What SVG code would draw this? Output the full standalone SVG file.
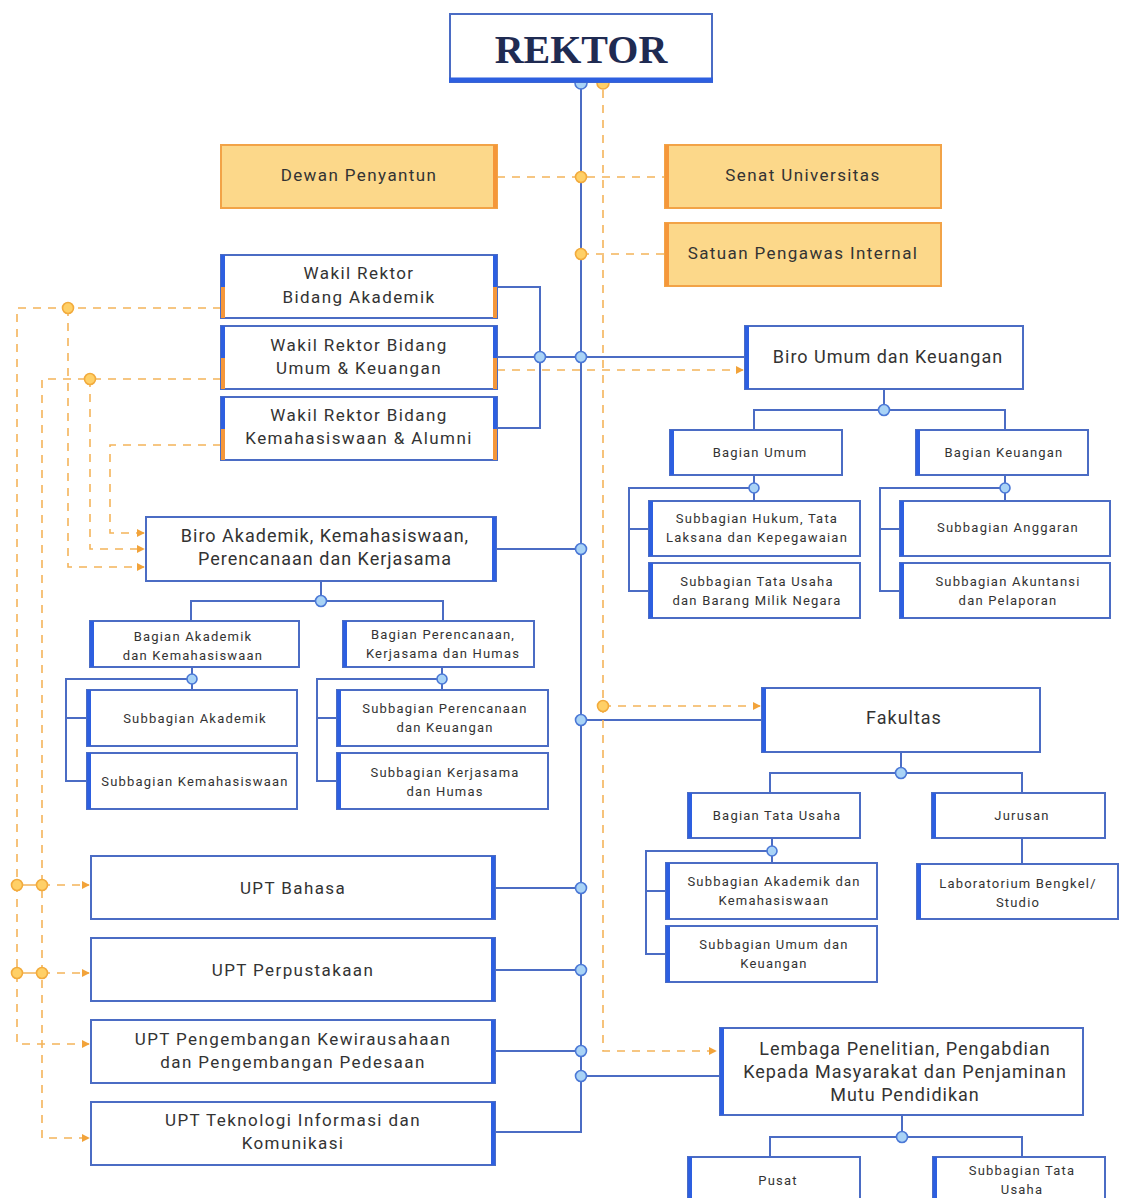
<svg xmlns="http://www.w3.org/2000/svg" width="1121" height="1198" viewBox="0 0 1121 1198">
<defs>
<marker id="arr" viewBox="0 0 10 10" refX="9" refY="5" markerWidth="8" markerHeight="8" markerUnits="userSpaceOnUse" orient="auto"><path d="M0,0 L10,5 L0,10 z" fill="#f2a33a"/></marker>
<style>
.box{fill:#fff;stroke:#4b6cc4;stroke-width:2}
.ybox{fill:#fcd88a;stroke:#f2a347;stroke-width:2}
.be{stroke:#2d5fe0;stroke-width:4}
.oe{stroke:#f5973a;stroke-width:4}
.conn{stroke:#4b6cc4;stroke-width:2;fill:none}
.dash{stroke:#f4b45a;stroke-width:1.6;stroke-dasharray:8 7;fill:none}
.bdot{fill:#a9d3f6;stroke:#4b78d6;stroke-width:1.6}
.odot{fill:#ffd067;stroke:#f2ab3d;stroke-width:1.6}
text{font-family:Roboto,"Liberation Sans",sans-serif;fill:#333;text-anchor:middle}
.t17{font-size:17px;letter-spacing:1.4px}
.t18{font-size:18px;letter-spacing:1px}
.t13{font-size:13px;letter-spacing:1.2px}
</style>
</defs>
<rect width="1121" height="1198" fill="#fff"/>

<g id="connectors">
<path class="conn" d="M581,83 V1132 H495"/>
<path class="conn" d="M497,287 H540 V428 H497"/>
<path class="conn" d="M497,357 H745"/>
<path class="conn" d="M496,549 H581"/>
<path class="conn" d="M581,720 H762"/>
<path class="conn" d="M495,888 H581"/>
<path class="conn" d="M495,970 H581"/>
<path class="conn" d="M495,1051 H581"/>
<path class="conn" d="M581,1076 H720"/>
<path class="conn" d="M884,389 V410 M754,430 V410 H1005 V430"/>
<path class="conn" d="M754,475 V501 M754,488 H629 V591 H649 M629,529 H649"/>
<path class="conn" d="M1005,475 V501 M1005,488 H880 V591 H900 M880,529 H900"/>
<path class="conn" d="M321,581 V601 M191,621 V601 H443 V621"/>
<path class="conn" d="M192,667 V690 M192,679 H66 V781 H87 M66,718 H87"/>
<path class="conn" d="M442,667 V690 M442,679 H317 V781 H337 M317,718 H337"/>
<path class="conn" d="M901,752 V773 M770,793 V773 H1022 V793"/>
<path class="conn" d="M1022,838 V864"/>
<path class="conn" d="M772,838 V863 M772,851 H646 V954 H666 M646,891 H666"/>
<path class="conn" d="M902,1115 V1137 M770,1157 V1137 H1022 V1157"/>
<path class="dash" d="M603,90 V1051 H716" marker-end="url(#arr)"/>
<path class="dash" d="M603,706 H760" marker-end="url(#arr)"/>
<path class="dash" d="M497,177 H665"/>
<path class="dash" d="M581,254 H665"/>
<path class="dash" d="M497,370 H743" marker-end="url(#arr)"/>
<path class="dash" d="M221,308 H17 V1044 H89" marker-end="url(#arr)"/>
<path class="dash" d="M68,308 V567 H144" marker-end="url(#arr)"/>
<path class="dash" d="M221,379 H42 V1138 H89" marker-end="url(#arr)"/>
<path class="dash" d="M90,379 V549 H144" marker-end="url(#arr)"/>
<path class="dash" d="M221,445 H110 V533 H144" marker-end="url(#arr)"/>
<path d="M17,885 H42 M17,973 H42" stroke="#f4b45a" stroke-width="1.6"/>
<path class="dash" d="M42,885 H89" marker-end="url(#arr)"/>
<path class="dash" d="M42,973 H89" marker-end="url(#arr)"/>
<circle class="bdot" cx="581" cy="83" r="6"/>
<circle class="odot" cx="603" cy="83" r="6"/>
<circle class="odot" cx="581" cy="177" r="5.5"/>
<circle class="odot" cx="581" cy="254" r="5.5"/>
<circle class="bdot" cx="540" cy="357" r="5.5"/>
<circle class="bdot" cx="581" cy="357" r="5.5"/>
<circle class="bdot" cx="581" cy="549" r="5.5"/>
<circle class="bdot" cx="581" cy="720" r="5.5"/>
<circle class="bdot" cx="581" cy="888" r="5.5"/>
<circle class="bdot" cx="581" cy="970" r="5.5"/>
<circle class="bdot" cx="581" cy="1051" r="5.5"/>
<circle class="bdot" cx="581" cy="1076" r="5.5"/>
<circle class="odot" cx="603" cy="706" r="5.5"/>
<circle class="bdot" cx="884" cy="410" r="5.5"/>
<circle class="bdot" cx="754" cy="488" r="5"/>
<circle class="bdot" cx="1005" cy="488" r="5"/>
<circle class="bdot" cx="321" cy="601" r="5.5"/>
<circle class="bdot" cx="192" cy="679" r="5"/>
<circle class="bdot" cx="442" cy="679" r="5"/>
<circle class="bdot" cx="901" cy="773" r="5.5"/>
<circle class="bdot" cx="772" cy="851" r="5"/>
<circle class="bdot" cx="902" cy="1137" r="5.5"/>
<circle class="odot" cx="68" cy="308" r="5.5"/>
<circle class="odot" cx="90" cy="379" r="5.5"/>
<circle class="odot" cx="17" cy="885" r="5.5"/>
<circle class="odot" cx="42" cy="885" r="5.5"/>
<circle class="odot" cx="17" cy="973" r="5.5"/>
<circle class="odot" cx="42" cy="973" r="5.5"/>
</g>

<g id="rektor">
<rect x="450" y="14" width="262" height="68" fill="#fff" stroke="#4b6cc4" stroke-width="2"/>
<line x1="449" y1="80" x2="713" y2="80" stroke="#2d5fe0" stroke-width="5"/>
<text x="581" y="63" style="font-family:'Liberation Serif',serif;font-weight:bold;font-size:40px;fill:#1f2b52">REKTOR</text>
</g>

<g id="dewan-penyantun">
<rect class="ybox" x="221" y="145" width="276" height="63"/>
<line class="oe" x1="495" y1="145" x2="495" y2="208"/>
<text class="t17" x="359" y="181">Dewan Penyantun</text>
</g>
<g id="senat-universitas">
<rect class="ybox" x="665" y="145" width="276" height="63"/>
<line class="oe" x1="667" y1="145" x2="667" y2="208"/>
<text class="t17" x="803" y="181">Senat Universitas</text>
</g>
<g id="satuan-pengawas-internal">
<rect class="ybox" x="665" y="223" width="276" height="63"/>
<line class="oe" x1="667" y1="223" x2="667" y2="286"/>
<text class="t17" x="803" y="259">Satuan Pengawas Internal</text>
</g>

<g id="wr-akademik">
<rect class="box" x="221" y="255" width="276" height="63"/>
<path class="be" d="M223,255 V287 M495,255 V287"/><path class="oe" d="M223,287 V318 M495,287 V318"/>
<text class="t17"><tspan x="359" y="279">Wakil Rektor</tspan><tspan x="359" y="303">Bidang Akademik</tspan></text>
</g>
<g id="wr-umum">
<rect class="box" x="221" y="326" width="276" height="63"/>
<path class="be" d="M223,326 V358 M495,326 V358"/><path class="oe" d="M223,358 V389 M495,358 V389"/>
<text class="t17"><tspan x="359" y="351">Wakil Rektor Bidang</tspan><tspan x="359" y="374">Umum &amp; Keuangan</tspan></text>
</g>
<g id="wr-kemahasiswaan">
<rect class="box" x="221" y="397" width="276" height="63"/>
<path class="be" d="M223,397 V429 M495,397 V429"/><path class="oe" d="M223,429 V460 M495,429 V460"/>
<text class="t17"><tspan x="359" y="421">Wakil Rektor Bidang</tspan><tspan x="359" y="444">Kemahasiswaan &amp; Alumni</tspan></text>
</g>

<g id="biro-umum">
<rect class="box" x="745" y="326" width="278" height="63"/>
<line class="be" x1="747" y1="326" x2="747" y2="389"/>
<text class="t18" x="888" y="363">Biro Umum dan Keuangan</text>
</g>
<g id="bagian-umum">
<rect class="box" x="670" y="430" width="172" height="45"/>
<line class="be" x1="672" y1="430" x2="672" y2="475"/>
<text class="t13" x="760" y="457">Bagian Umum</text>
</g>
<g id="bagian-keuangan">
<rect class="box" x="916" y="430" width="172" height="45"/>
<line class="be" x1="918" y1="430" x2="918" y2="475"/>
<text class="t13" x="1004" y="457">Bagian Keuangan</text>
</g>
<g id="sub-hukum">
<rect class="box" x="649" y="501" width="211" height="55"/>
<line class="be" x1="651" y1="501" x2="651" y2="556"/>
<text class="t13"><tspan x="757" y="523">Subbagian Hukum, Tata</tspan><tspan x="757" y="542">Laksana dan Kepegawaian</tspan></text>
</g>
<g id="sub-tatausaha-bmn">
<rect class="box" x="649" y="563" width="211" height="55"/>
<line class="be" x1="651" y1="563" x2="651" y2="618"/>
<text class="t13"><tspan x="757" y="586">Subbagian Tata Usaha</tspan><tspan x="757" y="605">dan Barang Milik Negara</tspan></text>
</g>
<g id="sub-anggaran">
<rect class="box" x="900" y="501" width="210" height="55"/>
<line class="be" x1="902" y1="501" x2="902" y2="556"/>
<text class="t13" x="1008" y="532">Subbagian Anggaran</text>
</g>
<g id="sub-akuntansi">
<rect class="box" x="900" y="563" width="210" height="55"/>
<line class="be" x1="902" y1="563" x2="902" y2="618"/>
<text class="t13"><tspan x="1008" y="586">Subbagian Akuntansi</tspan><tspan x="1008" y="605">dan Pelaporan</tspan></text>
</g>

<g id="biro-akademik">
<rect class="box" x="146" y="517" width="350" height="64"/>
<line class="be" x1="494" y1="517" x2="494" y2="581"/>
<text class="t18"><tspan x="325" y="542">Biro Akademik, Kemahasiswaan,</tspan><tspan x="325" y="565">Perencanaan dan Kerjasama</tspan></text>
</g>
<g id="bagian-akademik">
<rect class="box" x="90" y="621" width="209" height="46"/>
<line class="be" x1="92" y1="621" x2="92" y2="667"/>
<text class="t13"><tspan x="193" y="641">Bagian Akademik</tspan><tspan x="193" y="660">dan Kemahasiswaan</tspan></text>
</g>
<g id="bagian-perencanaan">
<rect class="box" x="343" y="621" width="191" height="46"/>
<line class="be" x1="345" y1="621" x2="345" y2="667"/>
<text class="t13"><tspan x="443" y="639">Bagian Perencanaan,</tspan><tspan x="443" y="658">Kerjasama dan Humas</tspan></text>
</g>
<g id="sub-akademik">
<rect class="box" x="87" y="690" width="210" height="56"/>
<line class="be" x1="89" y1="690" x2="89" y2="746"/>
<text class="t13" x="195" y="723">Subbagian Akademik</text>
</g>
<g id="sub-kemahasiswaan">
<rect class="box" x="87" y="753" width="210" height="56"/>
<line class="be" x1="89" y1="753" x2="89" y2="809"/>
<text class="t13" x="195" y="786">Subbagian Kemahasiswaan</text>
</g>
<g id="sub-perencanaan">
<rect class="box" x="337" y="690" width="211" height="56"/>
<line class="be" x1="339" y1="690" x2="339" y2="746"/>
<text class="t13"><tspan x="445" y="713">Subbagian Perencanaan</tspan><tspan x="445" y="732">dan Keuangan</tspan></text>
</g>
<g id="sub-kerjasama">
<rect class="box" x="337" y="753" width="211" height="56"/>
<line class="be" x1="339" y1="753" x2="339" y2="809"/>
<text class="t13"><tspan x="445" y="777">Subbagian Kerjasama</tspan><tspan x="445" y="796">dan Humas</tspan></text>
</g>

<g id="fakultas">
<rect class="box" x="762" y="688" width="278" height="64"/>
<line class="be" x1="764" y1="688" x2="764" y2="752"/>
<text class="t18" x="904" y="724">Fakultas</text>
</g>
<g id="bagian-tata-usaha">
<rect class="box" x="688" y="793" width="172" height="45"/>
<line class="be" x1="690" y1="793" x2="690" y2="838"/>
<text class="t13" x="777" y="820">Bagian Tata Usaha</text>
</g>
<g id="jurusan">
<rect class="box" x="932" y="793" width="173" height="45"/>
<line class="be" x1="934" y1="793" x2="934" y2="838"/>
<text class="t13" x="1022" y="820">Jurusan</text>
</g>
<g id="laboratorium">
<rect class="box" x="917" y="864" width="201" height="55"/>
<line class="be" x1="919" y1="864" x2="919" y2="919"/>
<text class="t13"><tspan x="1018" y="888">Laboratorium Bengkel/</tspan><tspan x="1018" y="907">Studio</tspan></text>
</g>
<g id="sub-fak-akademik">
<rect class="box" x="666" y="863" width="211" height="56"/>
<line class="be" x1="668" y1="863" x2="668" y2="919"/>
<text class="t13"><tspan x="774" y="886">Subbagian Akademik dan</tspan><tspan x="774" y="905">Kemahasiswaan</tspan></text>
</g>
<g id="sub-fak-umum">
<rect class="box" x="666" y="926" width="211" height="56"/>
<line class="be" x1="668" y1="926" x2="668" y2="982"/>
<text class="t13"><tspan x="774" y="949">Subbagian Umum dan</tspan><tspan x="774" y="968">Keuangan</tspan></text>
</g>

<g id="upt-bahasa">
<rect class="box" x="91" y="856" width="404" height="63"/>
<line class="be" x1="493" y1="856" x2="493" y2="919"/>
<text class="t17" x="293" y="894">UPT Bahasa</text>
</g>
<g id="upt-perpustakaan">
<rect class="box" x="91" y="938" width="404" height="63"/>
<line class="be" x1="493" y1="938" x2="493" y2="1001"/>
<text class="t17" x="293" y="976">UPT Perpustakaan</text>
</g>
<g id="upt-kewirausahaan">
<rect class="box" x="91" y="1020" width="404" height="63"/>
<line class="be" x1="493" y1="1020" x2="493" y2="1083"/>
<text class="t17"><tspan x="293" y="1045">UPT Pengembangan Kewirausahaan</tspan><tspan x="293" y="1068">dan Pengembangan Pedesaan</tspan></text>
</g>
<g id="upt-tik">
<rect class="box" x="91" y="1102" width="404" height="63"/>
<line class="be" x1="493" y1="1102" x2="493" y2="1165"/>
<text class="t17"><tspan x="293" y="1126">UPT Teknologi Informasi dan</tspan><tspan x="293" y="1149">Komunikasi</tspan></text>
</g>

<g id="lembaga">
<rect class="box" x="720" y="1028" width="363" height="87"/>
<line class="be" x1="722" y1="1028" x2="722" y2="1115"/>
<text class="t18"><tspan x="905" y="1055">Lembaga Penelitian, Pengabdian</tspan><tspan x="905" y="1078">Kepada Masyarakat dan Penjaminan</tspan><tspan x="905" y="1101">Mutu Pendidikan</tspan></text>
</g>
<g id="pusat">
<rect class="box" x="688" y="1157" width="172" height="50"/>
<line class="be" x1="690" y1="1157" x2="690" y2="1207"/>
<text class="t13" x="778" y="1185">Pusat</text>
</g>
<g id="subbagian-tata-usaha">
<rect class="box" x="933" y="1157" width="172" height="50"/>
<line class="be" x1="935" y1="1157" x2="935" y2="1207"/>
<text class="t13"><tspan x="1022" y="1175">Subbagian Tata</tspan><tspan x="1022" y="1194">Usaha</tspan></text>
</g>
</svg>
